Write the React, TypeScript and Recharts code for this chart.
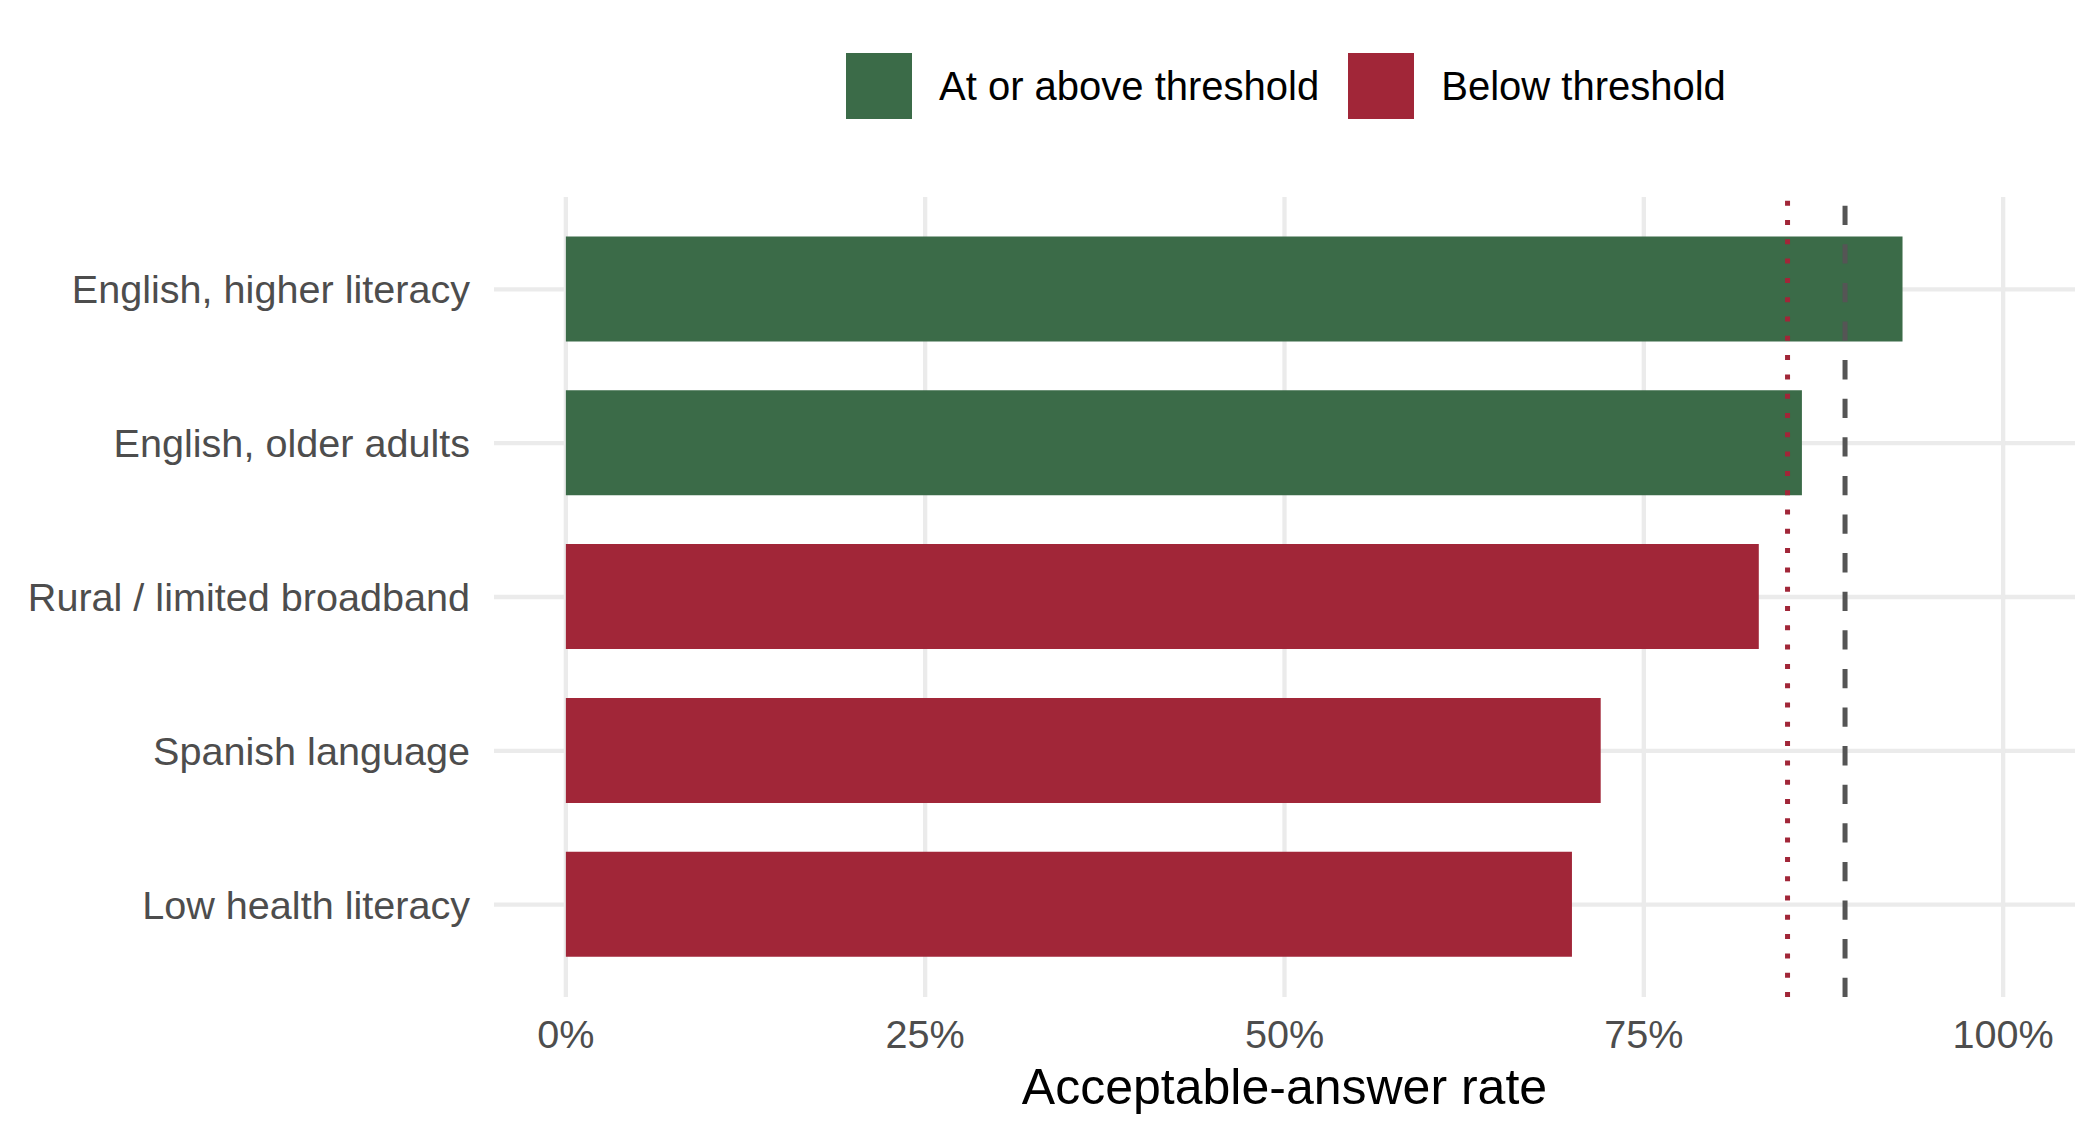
import React from 'react';
import {
  BarChart,
  Bar,
  XAxis,
  YAxis,
  CartesianGrid,
  ReferenceLine,
  Cell
} from 'recharts';

// --- data ---
const groups = [
  'English, higher literacy',
  'English, older adults',
  'Rural / limited broadband',
  'Spanish language',
  'Low health literacy'
];
const acceptableRates = [0.93, 0.86, 0.83, 0.72, 0.70];
const thresholdRate = 0.85; // dotted red line
const benchmarkRate = 0.89; // dashed grey line
const rateTicks = [0, 0.25, 0.5, 0.75, 1];
const legendLabels = ['At or above threshold', 'Below threshold'];

const GREEN = '#3B6B48';
const RED = '#A12638';
const FONT = '"Liberation Sans", Arial, Helvetica, sans-serif';

const chartData = groups.map((name, i) => ({ name, rate: acceptableRates[i] }));

// call an axis scale whether it is a plain d3 scale or a wrapper with .map
const applyScale = (scale: any, v: any): number =>
  typeof scale === 'function' ? scale(v) : scale.map(v);

const App: React.FC = () => {
  return (
    <div style={{ position: 'absolute', left: 0, top: 0, width: 2100, height: 1140, background: '#fff', fontFamily: FONT }}>
      {/* Legend */}
      <div style={{ position: 'absolute', top: 53, left: 846, display: 'flex', alignItems: 'center', fontSize: 40, color: '#000' }}>
        {legendLabels.map((label, i) => (
          <div key={label} style={{ display: 'flex', alignItems: 'center', marginRight: i === 0 ? 29 : 0 }}>
            <div style={{ width: 66, height: 66, backgroundColor: i === 0 ? GREEN : RED, marginRight: 27 }} />
            <span style={{ lineHeight: '66px' }}>{label}</span>
          </div>
        ))}
      </div>

      <BarChart
        width={2100}
        height={1140}
        data={chartData}
        layout="vertical"
        margin={{ top: 197, right: 25, bottom: 0, left: 0 }}
        barSize={105}
      >
        <CartesianGrid
          stroke="#EBEBEB"
          strokeWidth={4.3}
          verticalCoordinatesGenerator={({ xAxis }: any) =>
            rateTicks.map((t) => applyScale(xAxis.scale, t))
          }
          horizontalCoordinatesGenerator={({ yAxis }: any) => {
            const bw = typeof yAxis.scale.bandwidth === 'function' ? yAxis.scale.bandwidth() : 0;
            return groups.map((g) => applyScale(yAxis.scale, g) + bw / 2);
          }}
        />
        <XAxis
          type="number"
          dataKey="rate"
          domain={[-0.05, 1.05]}
          ticks={rateTicks}
          allowDataOverflow
          axisLine={false}
          tickLine={false}
          tickSize={0}
          tickMargin={23}
          height={143}
          tick={{ fontSize: 39.6, fill: '#4D4D4D' }}
          tickFormatter={(v: number) => `${Math.round(v * 100)}%`}
          label={{ value: 'Acceptable-answer rate', position: 'insideBottom', offset: 36, fontSize: 50, fill: '#000' }}
        />
        <YAxis
          type="category"
          dataKey="name"
          width={494}
          axisLine={false}
          tickLine={false}
          tickSize={0}
          tickMargin={24}
          padding={{ top: 15.4, bottom: 15.4 }}
          tick={{ fontSize: 39.6, fill: '#4D4D4D' }}
        />
        <Bar dataKey="rate" isAnimationActive={false}>
          {chartData.map((d) => (
            <Cell key={d.name} fill={d.rate >= thresholdRate ? GREEN : RED} />
          ))}
        </Bar>
        <ReferenceLine x={thresholdRate} stroke={RED} strokeWidth={5} strokeDasharray="5 14.3" />
        <ReferenceLine x={benchmarkRate} stroke="#555555" strokeWidth={5} strokeDasharray="19.3 19.3" />
      </BarChart>
    </div>
  );
};

export default App;
